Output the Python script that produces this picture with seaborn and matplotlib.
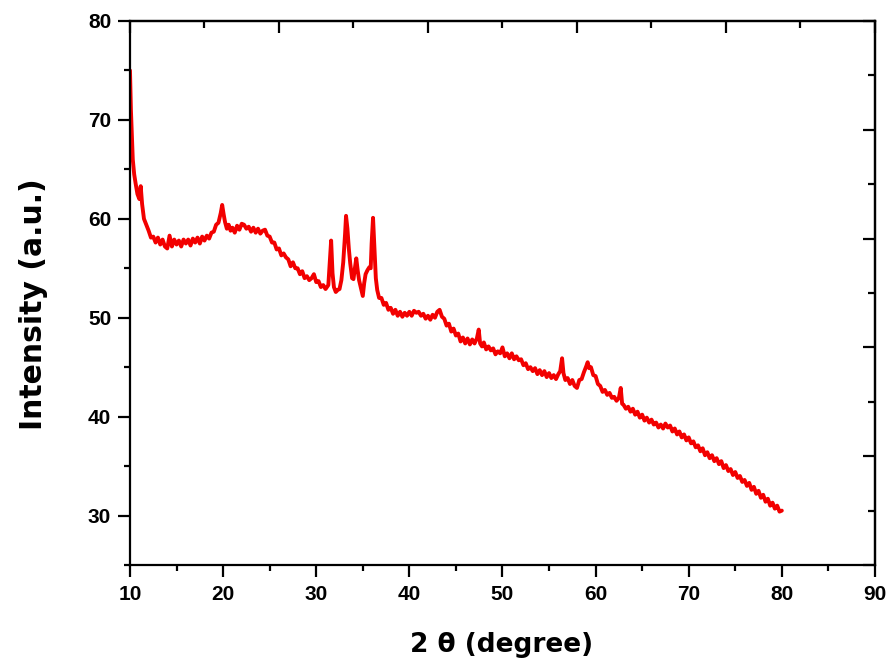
import matplotlib
matplotlib.use("Agg")
import matplotlib.pyplot as plt
from matplotlib.ticker import FixedLocator, MultipleLocator, NullFormatter
import seaborn as sns
import pandas as pd

# ---- data ----
two_theta = [
    10.0, 10.1, 10.2, 10.3, 10.45, 10.6, 10.8, 11.0, 11.15, 11.3, 11.5, 11.75,
    12.0, 12.25, 12.5, 12.75, 13.0, 13.25, 13.5, 13.75, 14.0, 14.25, 14.5, 14.75,
    15.0, 15.25, 15.5, 15.75, 16.0, 16.25, 16.5, 16.75, 17.0, 17.25, 17.5, 17.75,
    18.0, 18.25, 18.5, 18.75, 19.0, 19.25, 19.5, 19.75, 19.9, 20.05, 20.2, 20.4,
    20.6, 20.8, 21.0, 21.25, 21.5, 21.75, 22.0, 22.25, 22.5, 22.75, 23.0, 23.25,
    23.5, 23.75, 24.0, 24.25, 24.5, 24.75, 25.0, 25.25, 25.5, 25.75, 26.0, 26.25,
    26.5, 26.75, 27.0, 27.25, 27.5, 27.75, 28.0, 28.25, 28.5, 28.75, 29.0, 29.25,
    29.5, 29.75, 30.0, 30.25, 30.5, 30.75, 31.0, 31.3, 31.45, 31.6, 31.75, 31.9,
    32.1, 32.3, 32.5, 32.7, 32.9, 33.1, 33.2, 33.35, 33.5, 33.65, 33.85, 34.0,
    34.15, 34.3, 34.45, 34.6, 34.8, 35.0, 35.15, 35.3, 35.5, 35.7, 35.85, 35.95,
    36.1, 36.25, 36.4, 36.55, 36.75, 37.0, 37.25, 37.5, 37.75, 38.0, 38.25, 38.5,
    38.75, 39.0, 39.25, 39.5, 39.75, 40.0, 40.25, 40.5, 40.75, 41.0, 41.25, 41.5,
    41.75, 42.0, 42.25, 42.5, 42.75, 43.0, 43.25, 43.5, 43.75, 44.0, 44.25, 44.5,
    44.75, 45.0, 45.25, 45.5, 45.75, 46.0, 46.25, 46.5, 46.75, 47.0, 47.25, 47.45,
    47.6, 47.8, 48.0, 48.25, 48.5, 48.75, 49.0, 49.25, 49.5, 49.75, 50.0, 50.25,
    50.5, 50.75, 51.0, 51.25, 51.5, 51.75, 52.0, 52.25, 52.5, 52.75, 53.0, 53.25,
    53.5, 53.75, 54.0, 54.25, 54.5, 54.75, 55.0, 55.25, 55.5, 55.75, 56.0, 56.2,
    56.4, 56.55, 56.75, 57.0, 57.25, 57.5, 57.75, 58.0, 58.25, 58.5, 58.75, 59.0,
    59.15, 59.3, 59.5, 59.75, 60.0, 60.25, 60.5, 60.75, 61.0, 61.25, 61.5, 61.75,
    62.0, 62.25, 62.5, 62.7, 62.85, 63.0, 63.25, 63.5, 63.75, 64.0, 64.25, 64.5,
    64.75, 65.0, 65.25, 65.5, 65.75, 66.0, 66.25, 66.5, 66.75, 67.0, 67.25, 67.5,
    67.75, 68.0, 68.25, 68.5, 68.75, 69.0, 69.25, 69.5, 69.75, 70.0, 70.25, 70.5,
    70.75, 71.0, 71.25, 71.5, 71.75, 72.0, 72.25, 72.5, 72.75, 73.0, 73.25, 73.5,
    73.75, 74.0, 74.25, 74.5, 74.75, 75.0, 75.25, 75.5, 75.75, 76.0, 76.25, 76.5,
    76.75, 77.0, 77.25, 77.5, 77.75, 78.0, 78.25, 78.5, 78.75, 79.0, 79.25, 79.5,
    79.75, 80.0,
]
intensity = [
    75.0, 71.0, 68.5, 66.0, 64.5, 63.6, 62.5, 62.0, 63.3, 61.5, 60.0, 59.4,
    58.8, 58.1, 58.2, 57.6, 58.1, 57.4, 57.9, 57.2, 57.0, 58.3, 57.2, 57.9,
    57.4, 57.8, 57.2, 57.9, 57.5, 57.9, 57.3, 58.0, 57.6, 58.1, 57.5, 58.2,
    57.8, 58.3, 58.0, 58.6, 58.7, 59.4, 59.6, 60.6, 61.4, 60.5, 59.7, 59.0,
    59.4, 58.8, 59.1, 58.6, 59.3, 58.9, 59.5, 59.4, 59.0, 59.2, 58.7, 59.1,
    58.6, 59.0, 58.5, 58.8, 58.9, 58.3, 58.2, 57.6, 57.6, 56.9, 57.0, 56.3,
    56.5, 56.1, 55.9, 55.2, 55.6, 55.0, 55.0, 54.4, 54.7, 54.0, 54.2, 53.8,
    54.0, 54.4, 53.6, 53.7, 53.1, 53.3, 52.9, 53.3, 55.5, 57.8, 54.5, 53.1,
    52.6, 52.8, 52.9, 53.8, 55.6, 58.5, 60.3, 59.0, 57.0, 55.5, 54.0, 53.9,
    55.0, 56.0, 54.8, 53.8, 53.0, 52.2, 53.5, 54.4, 54.8, 55.1, 55.0, 57.5,
    60.1, 57.0, 54.0, 52.8, 52.0, 52.0, 51.3, 51.5, 50.8, 51.0, 50.4, 50.8,
    50.2, 50.6, 50.1, 50.5, 50.2, 50.6, 50.2, 50.7, 50.5, 50.6, 50.2, 50.4,
    49.9, 50.2, 49.8, 50.3, 50.0, 50.6, 50.8, 50.1, 49.9, 49.2, 49.4, 48.6,
    48.9, 48.2, 48.4, 47.6, 48.0, 47.4, 47.9, 47.3, 47.8, 47.4, 47.9, 48.8,
    47.4, 47.1, 47.5, 46.8, 47.1, 46.7, 46.9, 46.3, 46.6, 46.4, 47.0, 46.1,
    46.4, 45.9, 46.4, 45.8, 46.1, 45.7, 45.8, 45.2, 45.4, 44.8, 45.0, 44.6,
    44.9, 44.3, 44.7, 44.2, 44.6, 44.0, 44.4, 43.9, 44.2, 43.8, 44.3, 44.6,
    45.9, 44.4, 43.7, 43.9, 43.3, 43.7, 43.1, 42.9, 43.7, 43.8, 44.5, 45.1,
    45.5, 44.9, 45.0, 44.2, 44.1, 43.3, 43.1, 42.5, 42.7, 42.2, 42.4, 41.9,
    42.0, 41.6, 41.9, 42.9, 41.3, 41.2, 40.8, 41.0, 40.5, 40.8, 40.2, 40.5,
    39.9, 40.2, 39.6, 39.9, 39.4, 39.7, 39.2, 39.4, 38.9, 39.2, 38.8, 39.3,
    38.9, 39.1, 38.5, 38.8, 38.2, 38.5, 37.9, 38.2, 37.6, 37.9, 37.3, 37.5,
    36.9, 37.1, 36.5, 36.8, 36.1, 36.4, 35.8, 36.1, 35.5, 35.8, 35.2, 35.5,
    34.8, 35.1, 34.5, 34.7, 34.1, 34.4, 33.8, 34.0, 33.4, 33.6, 33.0, 33.3,
    32.6, 32.9, 32.2, 32.5, 31.8, 32.1, 31.4, 31.7, 31.0, 31.3, 30.7, 31.0,
    30.4, 30.5,
]

x_major_ticks = [10, 20, 30, 40, 50, 60, 70, 80, 90]
y_major_ticks = [30, 40, 50, 60, 70, 80]
top_major_ticks = [10, 26, 42, 58, 74, 90]
top_minor_ticks = [18, 34, 50, 66, 82]
right_major_ticks = [25, 36, 47, 58, 69, 80]
right_minor_ticks = [30.5, 41.5, 52.5, 63.5, 74.5]

df = pd.DataFrame({"two_theta": two_theta, "intensity": intensity})

sns.set_style("ticks")
plt.rcParams["font.family"] = ["Liberation Sans", "DejaVu Sans"]
plt.rcParams["text.color"] = "black"
plt.rcParams["xtick.color"] = "black"
plt.rcParams["ytick.color"] = "black"

fig = plt.figure(figsize=(8.94, 6.72), dpi=100)
ax = fig.add_axes([0.1454, 0.1592, 0.8333, 0.8096])

sns.lineplot(data=df, x="two_theta", y="intensity", ax=ax, color="#f20000",
             linewidth=2.8, sort=False)

ax.set_xlim(10, 90)
ax.set_ylim(25, 80)
ax.xaxis.set_major_locator(FixedLocator(x_major_ticks))
ax.xaxis.set_minor_locator(MultipleLocator(5))
ax.yaxis.set_major_locator(FixedLocator(y_major_ticks))
ax.yaxis.set_minor_locator(MultipleLocator(5))

for sp in ax.spines.values():
    sp.set_linewidth(1.6)
    sp.set_color("black")
    sp.set_visible(True)

ax.tick_params(axis="both", which="major", direction="out", length=8.5,
               width=1.6, labelsize=15, pad=5, colors="black",
               labelcolor="black")
ax.tick_params(axis="both", which="minor", direction="out", length=4.5,
               width=1.6, colors="black")
ax.tick_params(axis="x", which="major", pad=6)
for lab in ax.get_xticklabels() + ax.get_yticklabels():
    lab.set_fontweight("bold")

top = ax.secondary_xaxis("top")
top.xaxis.set_major_locator(FixedLocator(top_major_ticks))
top.xaxis.set_minor_locator(FixedLocator(top_minor_ticks))
top.xaxis.set_major_formatter(NullFormatter())
top.tick_params(which="major", direction="in", length=8.5, width=1.6, colors="black")
top.tick_params(which="minor", direction="in", length=5, width=1.6, colors="black")
top.spines["top"].set_linewidth(1.6)
top.spines["top"].set_color("black")

right = ax.secondary_yaxis("right")
right.yaxis.set_major_locator(FixedLocator(right_major_ticks))
right.yaxis.set_minor_locator(FixedLocator(right_minor_ticks))
right.yaxis.set_major_formatter(NullFormatter())
right.tick_params(which="major", direction="in", length=8.5, width=1.6, colors="black")
right.tick_params(which="minor", direction="in", length=5, width=1.6, colors="black")
right.spines["right"].set_linewidth(1.6)
right.spines["right"].set_color("black")

ax.set_xlabel("")
ax.set_ylabel("")
fig.text(0.5615, 1 - 645 / 672, "2 θ (degree)", ha="center", va="center",
         fontsize=19, fontweight="bold", family=["DejaVu Sans"], color="black")
fig.text(34 / 894, 1 - 304 / 672, "Intensity (a.u.)", ha="center",
         va="center", rotation=90, fontsize=21.5, fontweight="bold",
         family=["DejaVu Sans"], color="black")

fig.savefig("out.png", dpi=100, facecolor="white")
